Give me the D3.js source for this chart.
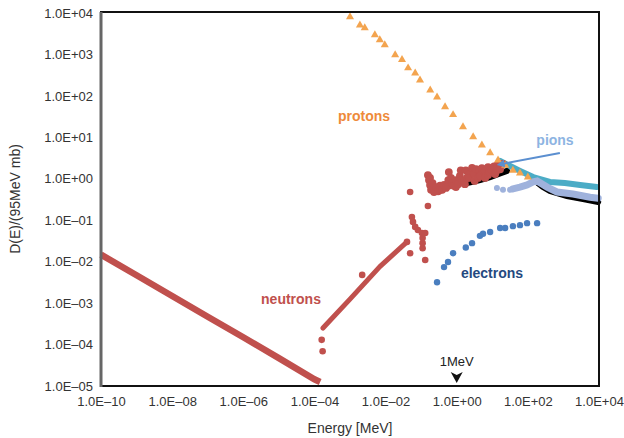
<!DOCTYPE html>
<html>
<head>
<meta charset="utf-8">
<script src="https://cdn.jsdelivr.net/npm/d3@7"></script>
<style>
  body { margin: 0; background: #fff; }
  svg { display: block; font-family: "Liberation Sans", Arial, sans-serif; }
  .tick text { fill: #333; font-size: 13px; }
</style>
</head>
<body>
<svg id="chart" width="624" height="438"></svg>
<script>
// ticks
const xTickValues = [1e-10, 1e-8, 1e-6, 1e-4, 1e-2, 1e0, 1e2, 1e4];
const xTickLabels = ['1.0E\u201310', '1.0E\u201308', '1.0E\u201306', '1.0E\u201304', '1.0E\u201302', '1.0E+00', '1.0E+02', '1.0E+04'];
const yTickValues = [1e-5, 1e-4, 1e-3, 1e-2, 1e-1, 1e0, 1e1, 1e2, 1e3, 1e4];
const yTickLabels = ['1.0E\u201305', '1.0E\u201304', '1.0E\u201303', '1.0E\u201302', '1.0E\u201301', '1.0E+00', '1.0E+01', '1.0E+02', '1.0E+03', '1.0E+04'];

// neutrons [E MeV, D]
const neutronThermal = [[1e-10, 0.0148], [1e-9, 0.0047], [1e-8, 0.00148], [1e-7, 4.7e-4], [1e-6, 1.5e-4], [1e-5, 4.7e-5], [1e-4, 1.45e-5], [1.45e-4, 1.25e-5]];
const neutronRise = [[1.74e-4, 2.5e-4], [1e-3, 1.25e-3], [6.9e-3, 7.6e-3], [0.040, 0.030]];
const neutronDots = [[1.6e-4, 1.3e-4], [1.7e-4, 6.9e-5], [2.2e-3, 4.8e-3], [0.049, 0.016], [0.040, 0.030],
  [0.055, 0.12], [0.059, 0.091], [0.068, 0.069], [0.081, 0.058], [0.105, 0.049], [0.13, 0.049],
  [0.11, 0.037], [0.11, 0.028], [0.11, 0.021], [0.13, 0.011], [0.049, 0.48], [0.155, 0.22]];
const neutronFast = [[0.155, 1.23], [0.166, 0.93], [0.178, 0.71], [0.178, 1.05], [0.19, 0.54], [0.20, 0.68],
  [0.21, 0.78], [0.23, 0.48], [0.26, 0.63], [0.30, 0.50], [0.34, 0.68], [0.34, 0.54], [0.39, 0.54],
  [0.44, 0.71], [0.50, 0.60], [0.58, 0.68], [0.58, 0.93], [0.60, 1.45], [0.69, 1.05], [0.74, 0.79],
  [0.83, 0.68], [0.95, 0.63], [0.95, 0.93], [1.1, 0.74], [1.23, 1.17], [1.3, 1.6], [1.4, 0.93],
  [1.6, 0.89], [1.7, 0.74], [1.8, 1.6], [1.95, 1.05], [2.1, 1.17], [2.3, 1.3], [2.3, 1.05], [2.7, 1.82],
  [2.9, 1.45], [3.1, 1.3], [3.2, 0.89], [3.5, 1.7], [4.0, 1.05], [4.3, 1.6], [4.7, 1.17], [5.1, 1.8],
  [5.9, 1.45], [6.3, 1.55], [6.3, 1.05], [7.6, 1.9], [7.6, 1.23], [8.3, 1.45], [9.1, 1.8], [9.8, 1.6],
  [11.2, 2.0], [12, 1.3], [12.6, 1.45], [13.5, 2.1], [16.6, 2.0], [16.6, 1.7], [20, 2.3]];

// high energy bands
const blackLow = [[1.95, 0.79], [4.5, 0.93], [8.7, 1.10], [16.6, 1.34], [26, 1.55]];
const blackHigh = [[200, 0.76], [260, 0.64], [417, 0.51], [1260, 0.38], [3550, 0.325], [9500, 0.275]];
const tealBand = [[16.6, 2.7], [31.6, 2.03], [60, 1.55], [141, 1.10], [417, 0.84], [1100, 0.79], [2950, 0.71], [8700, 0.63]];
const lavenderDots = [[13.5, 0.60], [20, 0.54], [31.6, 0.54]];
const lavenderBand = [[38, 0.57], [60, 0.63], [95, 0.71], [141, 0.84], [182, 0.88], [347, 0.63], [660, 0.48], [1860, 0.43], [5600, 0.36], [9500, 0.34]];

// protons
const protons = [[1e-3, 8000], [1.9e-3, 5100], [2.6e-3, 4360], [5e-3, 2950], [6.9e-3, 2240], [9.5e-3, 1700],
  [0.0186, 970], [0.029, 745], [0.043, 470], [0.068, 355], [0.093, 240], [0.18, 138], [0.28, 93],
  [0.47, 54], [0.79, 35], [1.5, 17.8], [2.9, 10.2], [5.1, 6.5], [8.7, 4.2], [14.5, 2.8], [23, 2.1],
  [38, 1.6], [60, 1.37], [100, 1.1]];

// electrons
const electrons = [[0.28, 0.0032], [0.44, 0.0074], [0.57, 0.0098], [0.79, 0.016], [1.8, 0.022], [2.7, 0.028],
  [4.5, 0.042], [5.5, 0.047], [8.7, 0.052], [16.6, 0.065], [23, 0.065], [38, 0.072], [60, 0.076],
  [95, 0.085], [182, 0.085]];

// pion pointer: from label to crossing
const pionPointer = [[795, 4.2], [20, 2.3]];

const svg = d3.select('#chart');
const x = d3.scaleLog().domain([1e-10, 1e4]).range([101, 599]);
const y = d3.scaleLog().domain([1e-5, 1e4]).range([386, 13]);
const line = d3.line().x(d => x(d[0])).y(d => y(d[1]));

const plot = svg.append('g');

// bands first
plot.append('path').datum(neutronThermal).attr('d', line)
  .attr('fill', 'none').attr('stroke', '#c0504d').attr('stroke-width', 6.5);
plot.append('path').datum(neutronRise).attr('d', line)
  .attr('fill', 'none').attr('stroke', '#c0504d').attr('stroke-width', 5).attr('stroke-linecap', 'round')
  .attr('stroke-linejoin', 'round');

[blackLow, blackHigh].forEach(s => {
  plot.append('path').datum(s).attr('d', line)
    .attr('fill', 'none').attr('stroke', '#000').attr('stroke-width', 6).attr('stroke-linecap', 'round');
});
plot.append('path').datum(tealBand).attr('d', line)
  .attr('fill', 'none').attr('stroke', '#4bacc6').attr('stroke-width', 6).attr('stroke-linecap', 'round');
plot.append('path').datum(lavenderBand).attr('d', line)
  .attr('fill', 'none').attr('stroke', '#9fb2dc').attr('stroke-width', 7).attr('stroke-linecap', 'round');
plot.selectAll('.lav').data(lavenderDots).enter().append('circle')
  .attr('cx', d => x(d[0])).attr('cy', d => y(d[1])).attr('r', 3).attr('fill', '#9fb2dc');

plot.selectAll('.nd').data(neutronDots).enter().append('circle')
  .attr('cx', d => x(d[0])).attr('cy', d => y(d[1])).attr('r', 3.3).attr('fill', '#c0504d');
plot.selectAll('.nf').data(neutronFast).enter().append('circle')
  .attr('cx', d => x(d[0])).attr('cy', d => y(d[1])).attr('r', 3.9).attr('fill', '#c0504d');

plot.selectAll('.el').data(electrons).enter().append('circle')
  .attr('cx', d => x(d[0])).attr('cy', d => y(d[1])).attr('r', 3.2).attr('fill', '#4a7ebf');

const tri = d3.symbol().type(d3.symbolTriangle).size(28);
plot.selectAll('.pr').data(protons).enter().append('path')
  .attr('d', tri)
  .attr('transform', d => 'translate(' + x(d[0]) + ',' + y(d[1]) + ')')
  .attr('fill', '#f3a44f');

// pions pointer with arrow head
svg.append('defs').append('marker')
  .attr('id', 'arr').attr('viewBox', '0 0 10 10').attr('refX', 2).attr('refY', 5)
  .attr('markerWidth', 4).attr('markerHeight', 4).attr('orient', 'auto')
  .append('path').attr('d', 'M0,0L10,5L0,10z').attr('fill', '#5b8fd0');
plot.append('path').datum(pionPointer).attr('d', line)
  .attr('stroke', '#5b8fd0').attr('stroke-width', 2).attr('marker-end', 'url(#arr)');

// frame
svg.append('rect').attr('x', 101).attr('y', 12).attr('width', 498).attr('height', 374)
  .attr('fill', 'none').attr('stroke', '#111').attr('stroke-width', 2);
svg.append('line').attr('x1', 101).attr('x2', 101).attr('y1', 12).attr('y2', 387)
  .attr('stroke', '#666').attr('stroke-width', 3);

// axes
const xAxis = svg.append('g').attr('transform', 'translate(0,386)')
  .call(d3.axisBottom(x).tickValues(xTickValues).tickSize(0).tickPadding(11)
    .tickFormat((d, i) => xTickLabels[i]));
xAxis.select('.domain').remove();
const yAxis = svg.append('g').attr('transform', 'translate(101,0)')
  .call(d3.axisLeft(y).tickValues(yTickValues).tickSize(0).tickPadding(8)
    .tickFormat((d, i) => yTickLabels[i]));
yAxis.select('.domain').remove();
svg.selectAll('.tick text').attr('font-family', '"Liberation Sans", Arial, sans-serif');

svg.append('text').attr('x', 350).attr('y', 433).attr('text-anchor', 'middle')
  .attr('font-size', 14).attr('fill', '#333').text('Energy [MeV]');
svg.append('text').attr('transform', 'translate(20,199) rotate(-90)').attr('text-anchor', 'middle')
  .attr('font-size', 14).attr('fill', '#333').text('D(E)/(95MeV mb)');

// 1 MeV marker
svg.append('text').attr('x', x(1)).attr('y', 366).attr('text-anchor', 'middle')
  .attr('font-size', 13).attr('fill', '#222').text('1MeV');
svg.append('path')
  .attr('d', 'M' + (x(1) - 6) + ',372L' + x(1) + ',375L' + (x(1) + 6) + ',372L' + x(1) + ',383Z')
  .attr('fill', '#111');

// series labels
const labels = [
  { t: 'protons', x: 364, y: 121, c: '#ee8a3a' },
  { t: 'pions', x: 555, y: 145, c: '#8db4e2' },
  { t: 'neutrons', x: 291, y: 304, c: '#c0504d' },
  { t: 'electrons', x: 492, y: 278, c: '#24497f' }
];
svg.selectAll('.lbl').data(labels).enter().append('text')
  .attr('x', d => d.x).attr('y', d => d.y).attr('text-anchor', 'middle')
  .attr('font-size', 14).attr('font-weight', 'bold').attr('fill', d => d.c).text(d => d.t);
</script>
</body>
</html>
